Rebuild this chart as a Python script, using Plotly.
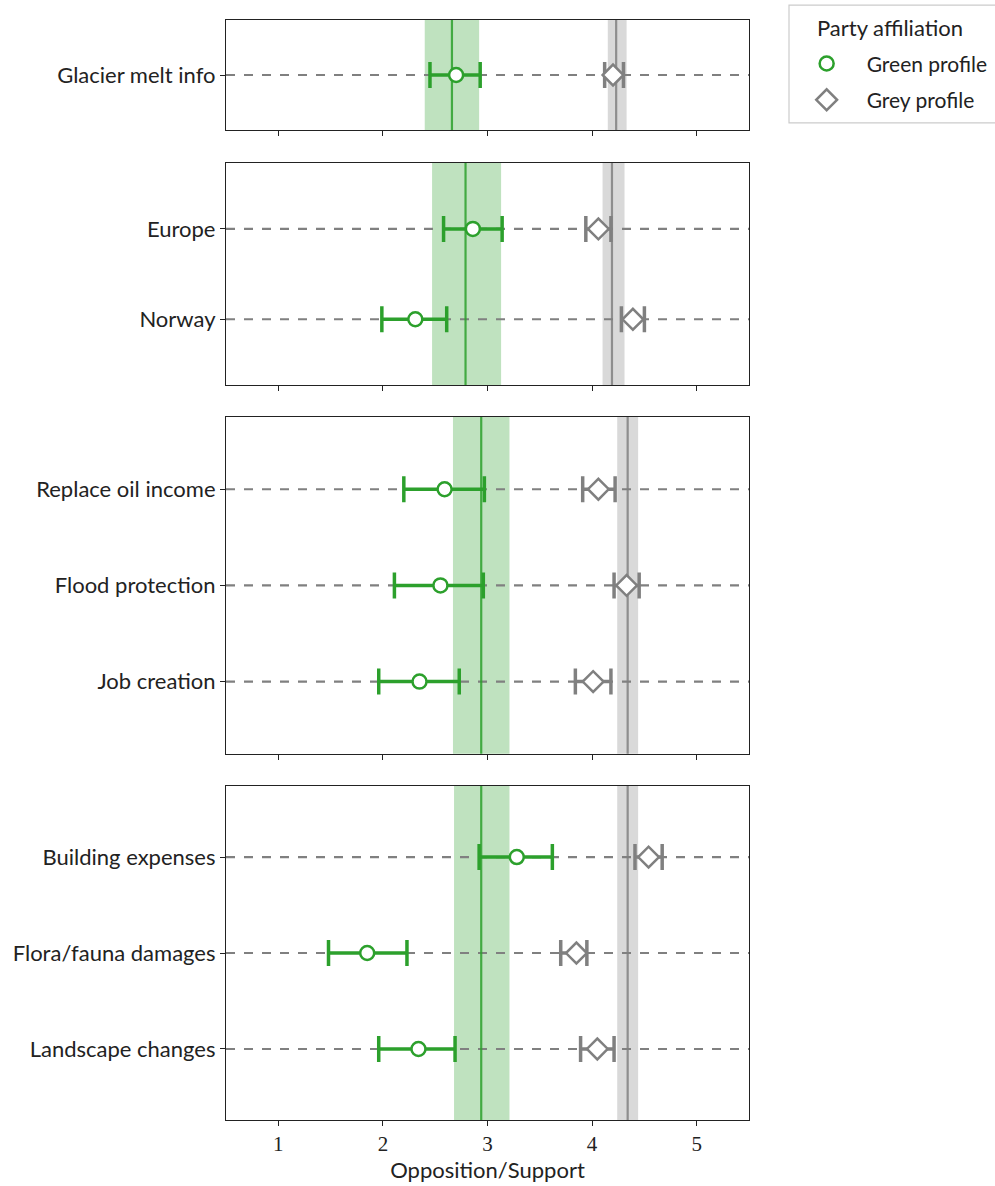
import plotly.graph_objects as go

# Statements, grouped by panel (top to bottom)
panel_labels = [
    ["Glacier melt info"],
    ["Europe", "Norway"],
    ["Replace oil income", "Flood protection", "Job creation"],
    ["Building expenses", "Flora/fauna damages", "Landscape changes"],
]

# Green profile: mean and confidence bounds per statement
green_mean = [[2.70], [2.86, 2.31], [2.59, 2.55, 2.35], [3.28, 1.85, 2.34]]
green_lo = [[2.45], [2.58, 1.99], [2.20, 2.11, 1.96], [2.92, 1.48, 1.96]]
green_hi = [[2.93], [3.14, 2.61], [2.97, 2.96, 2.73], [3.62, 2.23, 2.69]]

# Grey profile: mean and confidence bounds per statement
grey_mean = [[4.20], [4.06, 4.39], [4.06, 4.33, 4.01], [4.54, 3.85, 4.05]]
grey_lo = [[4.12], [3.94, 4.28], [3.91, 4.21, 3.84], [4.41, 3.70, 3.89]]
grey_hi = [[4.30], [4.18, 4.50], [4.22, 4.45, 4.18], [4.67, 3.95, 4.21]]

# Panel-level baseline (mean and band) for each profile
green_avg = [2.66, 2.79, 2.94, 2.94]
green_band_lo = [2.40, 2.47, 2.67, 2.68]
green_band_hi = [2.92, 3.13, 3.21, 3.21]
grey_avg = [4.23, 4.19, 4.34, 4.34]
grey_band_lo = [4.15, 4.10, 4.24, 4.24]
grey_band_hi = [4.33, 4.31, 4.44, 4.44]

x_ticks = [1, 2, 3, 4, 5]

GREEN = "#2ca02c"
GREY = "#808080"
LABEL_FONT = "Lato"

# layout geometry
domains = [[0.900, 1.0], [0.668, 0.870], [0.333, 0.639], [0.0, 0.3036]]
y_pad = [0.573, 0.73, 0.75, 0.74]

fig = go.Figure()
shapes = []

for i, labels in enumerate(panel_labels):
    n = len(labels)
    ys = list(range(n))
    xa = "x" if i == 0 else f"x{i+1}"
    ya = "y" if i == 0 else f"y{i+1}"
    xdom = f"{xa} domain"
    ydom = f"{ya} domain"

    # confidence bands of the panel baselines
    shapes.append(dict(type="rect", xref=xa, yref=ydom, x0=green_band_lo[i], x1=green_band_hi[i],
                       y0=0, y1=1, fillcolor="rgba(44,160,44,0.3)", line_width=0, layer="below"))
    shapes.append(dict(type="rect", xref=xa, yref=ydom, x0=grey_band_lo[i], x1=grey_band_hi[i],
                       y0=0, y1=1, fillcolor="rgba(128,128,128,0.3)", line_width=0, layer="below"))
    # dashed guide for every statement
    for y in ys:
        shapes.append(dict(type="line", xref=xdom, yref=ya, x0=0, x1=1, y0=y, y1=y,
                           line=dict(color=GREY, width=2.2, dash="dash"), layer="below"))
    # baseline means
    shapes.append(dict(type="line", xref=xa, yref=ydom, x0=green_avg[i], x1=green_avg[i], y0=0, y1=1,
                       line=dict(color="rgba(44,160,44,0.85)", width=2.2), layer="below"))
    shapes.append(dict(type="line", xref=xa, yref=ydom, x0=grey_avg[i], x1=grey_avg[i], y0=0, y1=1,
                       line=dict(color="rgba(128,128,128,0.85)", width=2.2), layer="below"))

    gm, gl, gh = green_mean[i], green_lo[i], green_hi[i]
    fig.add_trace(go.Scatter(
        x=gm, y=ys, xaxis=xa, yaxis=ya, mode="markers",
        name="Green profile", legendgroup="green", showlegend=(i == 0),
        marker=dict(symbol="circle", size=14, color="white", line=dict(color=GREEN, width=2.5)),
        error_x=dict(type="data", symmetric=False,
                     array=[h - m for h, m in zip(gh, gm)],
                     arrayminus=[m - l for m, l in zip(gm, gl)],
                     color=GREEN, thickness=3.5, width=13),
    ))
    rm, rl, rh = grey_mean[i], grey_lo[i], grey_hi[i]
    fig.add_trace(go.Scatter(
        x=rm, y=ys, xaxis=xa, yaxis=ya, mode="markers",
        name="Grey profile", legendgroup="grey", showlegend=(i == 0),
        marker=dict(symbol="diamond", size=16, color="white", line=dict(color=GREY, width=2.5)),
        error_x=dict(type="data", symmetric=False,
                     array=[h - m for h, m in zip(rh, rm)],
                     arrayminus=[m - l for m, l in zip(rm, rl)],
                     color=GREY, thickness=3.5, width=13),
    ))

    axis_common = dict(showline=True, linecolor="#222", linewidth=1.2, mirror=True,
                       showgrid=False, zeroline=False, ticks="outside", ticklen=5,
                       tickcolor="#222")
    xkey = "xaxis" if i == 0 else f"xaxis{i+1}"
    ykey = "yaxis" if i == 0 else f"yaxis{i+1}"
    fig.update_layout({
        xkey: dict(axis_common, range=[0.5, 5.5], tickvals=x_ticks,
                   ticktext=[str(t) for t in x_ticks] if i == 3 else [""] * len(x_ticks),
                   tickfont=dict(family="Liberation Serif", size=21, color="#222"),
                   anchor=ya, domain=[0, 1],
                   **({"matches": "x"} if i > 0 else {}),
                   **({"title": dict(text="Opposition/Support",
                                     font=dict(family=LABEL_FONT, size=22, color="#222"),
                                     standoff=6)} if i == 3 else {})),
        ykey: dict(axis_common, range=[n - 1 + y_pad[i], -y_pad[i]], tickvals=ys, ticktext=labels,
                   tickfont=dict(family=LABEL_FONT, size=22, color="#222"),
                   anchor=xa, domain=domains[i]),
    })

# legend frame and heading
shapes.append(dict(type="rect", xref="paper", yref="paper", x0=1.0765, x1=1.48,
                   y0=0.9064, y1=1.0136, line=dict(color="#cccccc", width=1.2),
                   fillcolor="white", layer="below"))

fig.update_layout(
    width=995, height=1186,
    margin=dict(l=226, r=246, t=20, b=66, autoexpand=False),
    plot_bgcolor="white", paper_bgcolor="white",
    shapes=shapes,
    annotations=[dict(text="Party affiliation", xref="paper", yref="paper",
                      x=1.2696, y=0.9935, xanchor="center", yanchor="middle",
                      showarrow=False, font=dict(family=LABEL_FONT, size=22, color="#222"))],
    showlegend=True,
    legend=dict(
        font=dict(family=LABEL_FONT, size=21, color="#222"),
        x=1.072, y=0.9788, xanchor="left", yanchor="top",
        borderwidth=0, bgcolor="rgba(0,0,0,0)",
        itemwidth=70, traceorder="grouped", tracegroupgap=6,
    ),
)

fig.write_html("out.html")
